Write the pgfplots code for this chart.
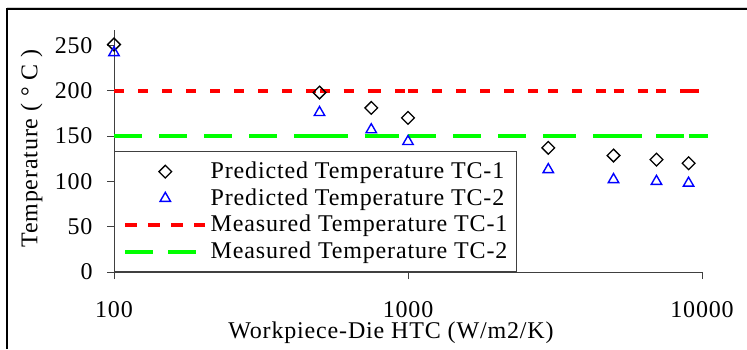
\documentclass[border=0pt]{standalone}
\usepackage{fontspec}
\setmainfont{Liberation Serif}[LetterSpace=3.5]
\usepackage{pgfplots}
\pgfplotsset{compat=1.18}

\definecolor{tcred}{RGB}{255,0,0}
\definecolor{tcgreen}{RGB}{0,255,0}
\definecolor{tcblue}{RGB}{0,0,255}
\definecolor{axisgray}{RGB}{64,64,64}

\newcommand\chartfont{\fontsize{24bp}{28bp}\selectfont}

% HTC (W/m2/K) against temperature (deg C)
\pgfplotstableread{
htc   temp
100   251
500   198
750   181
1000  170
3000  137
5000  128.5
7000  124
9000  120
}\predictedA
\pgfplotstableread{
htc   temp
100   242
500   176
750   157
1000  144
3000  113
5000  102
7000  100
9000  98
}\predictedB
\pgfplotstableread{
htc   temp
100   200
500   200
750   200
1000  200
3000  200
5000  200
7000  200
9000  200
10500 200
}\measuredA
\pgfplotstableread{
htc   temp
100   150
500   150
750   150
1000  150
3000  150
5000  150
7000  150
9000  150
10500 150
}\measuredB

\begin{document}
\begin{tikzpicture}[x=1bp,y=1bp]
\path[use as bounding box] (0,0) rectangle (747,349);
\draw[gray!35, line width=0.8bp] (7,341.6) -- (747,341.6);
\draw[black, line width=1.1bp] (7,0) -- (7,340) -- (747,340);
\begin{axis}[
  at={(114bp,77bp)}, anchor=south west,
  scale only axis, width=588bp, height=242bp,
  xmode=log, xmin=100, xmax=10000, ymin=0, ymax=267,
  clip=false,
  axis x line*=bottom, axis y line*=left,
  axis line style={axisgray, line width=0.8bp, -},
  xtick={100,1000,10000}, xticklabels={100,1000,10000},
  xminorticks=false,
  ytick={0,50,...,250},
  tick align=outside, major tick length=7bp,
  tick style={axisgray, line width=0.8bp},
  /pgf/number format/assume math mode=true,
  every tick label/.append style={font=\chartfont, inner sep=0pt},
  xticklabel style={anchor=base, yshift=-38.7bp},
  yticklabel style={anchor=east, xshift=-14.3bp},
  label style={font=\chartfont},
  xlabel={Workpiece-Die HTC (W/m2/K)},
  xlabel style={at={(axis description cs:0.471,-0.252)}, anchor=center, inner sep=0pt},
  ylabel={Temperature ( ° C )},
  ylabel style={at={(axis description cs:-0.14,0.51)}, anchor=center, inner sep=0pt},
  legend style={at={(0,0)}, anchor=south west, font=\chartfont,
    draw=axisgray, line width=0.8bp, fill=white,
    inner xsep=9bp, inner ysep=6.5bp, row sep=0pt,
    nodes={inner sep=0pt, text height=20bp, text depth=6.7bp},
    /tikz/every odd column/.append style={column sep=3.5bp}},
  legend cell align=left,
]
\addplot[only marks, mark=square, mark size=4.5bp,
  mark options={rotate=45, black, line width=1.3bp, solid},
  legend image code/.code={\draw[black, line width=1.3bp, mark=square, mark size=4.5bp, mark options={rotate=45, solid}] plot coordinates {(40bp,0bp)};}]
  table[x=htc, y=temp] {\predictedA};
\addlegendentry{Predicted Temperature TC-1}
\addplot[only marks, mark=triangle, mark size=6bp,
  mark options={tcblue, line width=1.4bp, solid},
  legend image code/.code={\draw[tcblue, line width=1.4bp, mark=triangle, mark size=6bp, mark options={solid}] plot coordinates {(40bp,0bp)};}]
  table[x=htc, y=temp] {\predictedB};
\addlegendentry{Predicted Temperature TC-2}
\addplot[mesh, colormap={solidred}{color=(tcred) color=(tcred)},
  line width=3.6bp, dash pattern=on 10bp off 14bp, no marks,
  legend image code/.code={\draw[tcred, line width=3.6bp, dash pattern=on 12bp off 11bp] (0bp,0bp) -- (80bp,0bp);}]
  table[x=htc, y=temp] {\measuredA};
\addlegendentry{Measured Temperature TC-1}
\addplot[mesh, colormap={solidgreen}{color=(tcgreen) color=(tcgreen)},
  line width=3.8bp, dash pattern=on 28bp off 17bp, no marks,
  legend image code/.code={\draw[tcgreen, line width=3.8bp, dash pattern=on 28bp off 15bp] (0bp,0bp) -- (80bp,0bp);}]
  table[x=htc, y=temp] {\measuredB};
\addlegendentry{Measured Temperature TC-2\hspace{4bp}}
\end{axis}
\end{tikzpicture}
\end{document}
